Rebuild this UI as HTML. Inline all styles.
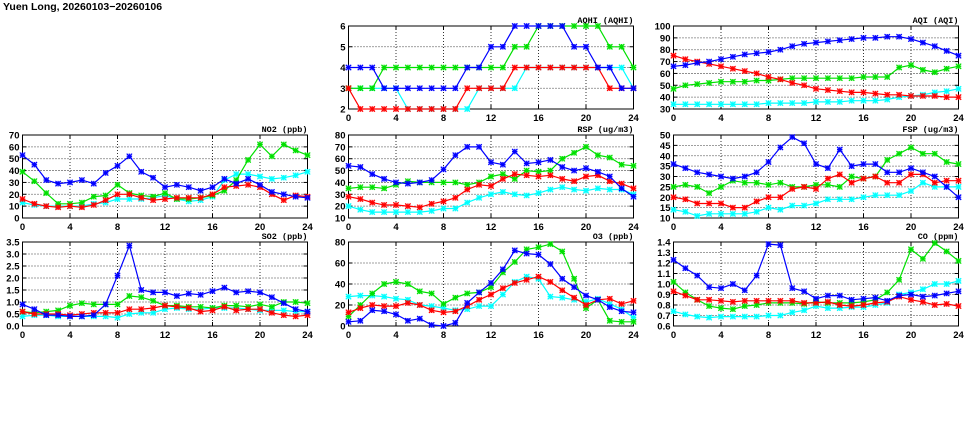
<!DOCTYPE html>
<html><head><meta charset="utf-8"><style>
html,body{margin:0;padding:0;background:#fff;width:975px;height:447px;overflow:hidden}
svg{display:block;font-family:"Liberation Sans",sans-serif}
</style></head><body>
<svg id="c" width="975" height="447" xmlns="http://www.w3.org/2000/svg">
<text x="3" y="10" font-family="Liberation Sans,sans-serif" font-weight="bold" font-size="10.5">Yuen Long, 20260103−20260106</text>
</svg>
<script>
const hours = [0,1,2,3,4,5,6,7,8,9,10,11,12,13,14,15,16,17,18,19,20,21,22,23,24];
const xTicks = [0,4,8,12,16,20,24];
const seriesColors = ['#00ffff','#00e000','#ff0000','#0000ff'];

const aqhiCyan = [3,3,3,3,3,2,2,2,2,2,2,3,3,3,3,4,4,4,4,4,4,4,4,4,3];
const aqhiGreen = [3,3,3,4,4,4,4,4,4,4,4,4,4,4,5,5,6,6,6,6,6,6,5,5,4];
const aqhiRed = [3,2,2,2,2,2,2,2,2,2,3,3,3,3,4,4,4,4,4,4,4,4,3,3,3];
const aqhiBlue = [4,4,4,3,3,3,3,3,3,3,4,4,5,5,6,6,6,6,6,5,5,4,4,3,3];
const aqhiTicks = [2,3,4,5,6];

const aqiCyan = [34,34,34,34,34,34,34,34,35,35,35,35,36,36,36,37,37,37,38,40,41,42,44,45,47];
const aqiGreen = [47,50,51,52,53,53,53,54,54,55,56,56,56,56,56,56,57,57,57,65,67,63,61,64,66];
const aqiRed = [75,72,70,68,66,64,62,60,57,55,52,50,47,46,45,44,44,43,42,42,41,41,41,40,40];
const aqiBlue = [66,67,69,70,72,74,76,77,78,80,83,85,86,87,88,89,90,90,91,91,89,86,83,79,75];
const aqiTicks = [30,40,50,60,70,80,90,100];

const no2Cyan = [13,11,10,10,10,10,12,13,16,16,16,17,19,16,14,15,18,32,37,37,35,33,34,36,39];
const no2Green = [39,31,21,12,12,13,18,19,28,21,19,18,21,16,16,17,19,23,32,49,62,52,62,57,53];
const no2Red = [16,12,10,9,10,9,11,15,20,20,17,15,16,17,17,17,20,26,27,28,26,20,15,19,18];
const no2Blue = [53,45,32,29,30,32,29,38,44,52,39,34,26,28,26,23,26,33,29,33,28,22,20,18,17];
const no2Ticks = [0,10,20,30,40,50,60,70];

const rspCyan = [20,17,15,15,15,15,15,16,18,18,23,27,30,32,30,29,31,34,36,34,33,35,34,34,30];
const rspGreen = [35,36,36,35,38,41,40,40,40,40,38,40,45,47,43,50,49,50,60,65,70,63,61,55,54];
const rspRed = [28,26,23,21,21,20,19,22,24,27,34,38,37,43,47,46,45,46,43,41,45,46,41,39,35];
const rspBlue = [54,53,47,43,40,39,40,42,51,63,70,70,57,55,66,56,57,59,53,50,52,49,45,35,28];
const rspTicks = [10,20,30,40,50,60,70,80];

const fspCyan = [14,13,11,12,12,12,12,13,15,14,16,16,17,19,19,19,20,21,21,21,23,27,25,25,25];
const fspGreen = [25,26,25,22,25,28,27,27,26,27,25,25,26,26,25,30,29,30,38,41,44,41,41,37,36];
const fspRed = [20,19,17,17,17,15,15,18,20,20,24,25,24,29,31,27,29,30,27,27,31,31,27,28,28];
const fspBlue = [36,34,32,31,30,29,30,32,37,44,49,46,36,34,43,35,36,36,32,32,34,32,30,25,20];
const fspTicks = [10,15,20,25,30,35,40,45,50];

const so2Cyan = [0.4,0.45,0.45,0.4,0.4,0.4,0.4,0.4,0.35,0.5,0.55,0.55,0.7,0.75,0.7,0.7,0.75,0.75,0.75,0.7,0.65,0.65,0.65,0.6,0.6];
const so2Green = [0.6,0.55,0.6,0.65,0.85,0.95,0.9,0.9,0.9,1.25,1.2,1.05,0.85,0.85,0.8,0.8,0.75,0.85,0.85,0.8,0.9,0.8,1.0,1.0,0.95];
const so2Red = [0.6,0.5,0.5,0.5,0.45,0.5,0.55,0.55,0.55,0.7,0.7,0.75,0.85,0.8,0.75,0.6,0.65,0.8,0.65,0.7,0.7,0.55,0.45,0.4,0.45];
const so2Blue = [0.9,0.7,0.45,0.45,0.4,0.4,0.45,0.9,2.1,3.35,1.5,1.4,1.4,1.25,1.35,1.3,1.45,1.6,1.4,1.45,1.4,1.2,0.95,0.7,0.6];
const so2Ticks = ['0.0','0.5','1.0','1.5','2.0','2.5','3.0','3.5'];

const o3Cyan = [28,29,29,28,26,25,20,19,17,15,16,19,19,30,42,47,45,28,27,25,23,26,21,16,8];
const o3Green = [9,20,31,40,42,40,33,31,21,27,31,32,37,51,61,73,75,78,71,45,17,25,5,4,4];
const o3Red = [13,17,20,19,19,22,20,15,13,14,19,25,30,36,41,44,47,42,34,27,20,25,26,21,24];
const o3Blue = [4,5,15,14,11,5,7,1,0,3,22,32,41,54,72,69,68,59,45,37,29,25,18,14,13];
const o3Ticks = [0,20,40,60,80];

const coCyan = [0.74,0.71,0.69,0.68,0.69,0.69,0.69,0.69,0.70,0.70,0.73,0.75,0.79,0.77,0.77,0.78,0.78,0.80,0.82,0.90,0.92,0.95,1.00,1.00,1.03];
const coGreen = [1.02,0.92,0.85,0.79,0.77,0.76,0.79,0.80,0.82,0.82,0.82,0.81,0.83,0.82,0.82,0.82,0.83,0.85,0.92,1.04,1.33,1.24,1.39,1.31,1.22];
const coRed = [0.93,0.89,0.85,0.85,0.84,0.83,0.84,0.84,0.84,0.84,0.84,0.82,0.82,0.83,0.80,0.79,0.80,0.82,0.83,0.88,0.85,0.83,0.80,0.81,0.79];
const coBlue = [1.23,1.15,1.08,0.97,0.96,1.00,0.94,1.08,1.38,1.37,0.96,0.93,0.86,0.89,0.89,0.85,0.86,0.87,0.84,0.89,0.90,0.88,0.89,0.91,0.93];
const coTicks = ['0.6','0.7','0.8','0.9','1.0','1.1','1.2','1.3','1.4'];

const NS='http://www.w3.org/2000/svg';
const svg=document.getElementById('c');
function mk(tag,attrs,parent){const e=document.createElementNS(NS,tag);for(const k in attrs)e.setAttribute(k,attrs[k]);(parent||svg).appendChild(e);return e;}

const COLX=[22.5,348.5,673.5], W=285;
const ROWY=[26,135,242], H=[83,83,84];

function panel(name,title,col,row,ticks,series){
  const x0=COLX[col], y0=ROWY[row], h=H[row];
  const g=mk('g',{});
  
  
  const tv=ticks.map(Number);
  const ymin=tv[0], ymax=tv[tv.length-1];
  const sx=v=>x0+v/24*W;
  const sy=v=>y0+h-(v-ymin)/(ymax-ymin)*h;
  tv.forEach((t,i)=>{
    const y=sy(t);
    if(i>0&&i<tv.length-1){const l=mk('line',{x1:x0,x2:x0+W,y1:y,y2:y,stroke:'#000','stroke-width':0.8,'stroke-dasharray':'1,2'},g);
      }
    mk('line',{x1:x0,x2:x0+4,y1:y,y2:y,stroke:'#000','stroke-width':1},g);
    mk('line',{x1:x0+W-4,x2:x0+W,y1:y,y2:y,stroke:'#000','stroke-width':1},g);
    const tx=mk('text',{x:x0-3,y:y+3.5,'text-anchor':'end','font-size':9.5,'font-weight':'bold'},g);
    tx.textContent=ticks[i];
    
    
  });
  xTicks.forEach((t,i)=>{
    const x=sx(t);
    if(i>0&&i<xTicks.length-1){const l=mk('line',{x1:x,x2:x,y1:y0,y2:y0+h,stroke:'#000','stroke-width':0.8,'stroke-dasharray':'1,2'},g);
      }
    mk('line',{x1:x,x2:x,y1:y0+h,y2:y0+h-4,stroke:'#000','stroke-width':1},g);
    mk('line',{x1:x,x2:x,y1:y0,y2:y0+4,stroke:'#000','stroke-width':1},g);
    const tx=mk('text',{x:x,y:y0+h+12,'text-anchor':'middle','font-size':9.5,'font-weight':'bold'},g);
    tx.textContent=t;
    
    
  });
  const border=mk('rect',{x:x0,y:y0,width:W,height:h,fill:'none',stroke:'#000','stroke-width':1},g);
  
  
  const tt=mk('text',{x:x0+W,y:y0-3,'text-anchor':'end','font-size':8.5,'font-weight':'bold','font-family':'Liberation Mono,monospace'},g);
  tt.textContent=title;
  
  
  series.forEach((vals,si)=>{
    const c=seriesColors[si];
    const pts=vals.map((v,i)=>sx(hours[i]).toFixed(1)+','+sy(v).toFixed(1)).join(' ');
    const pl=mk('polyline',{points:pts,fill:'none',stroke:c,'stroke-width':1.2},g);
    
    
    vals.forEach((v,i)=>{
      const cx=sx(hours[i]), cy=sy(v), r=2.7;
      const m=mk('g',{},g);
      
      
      mk('rect',{x:cx-r,y:cy-r,width:2*r,height:2*r,fill:c,'fill-opacity':0.3},m);
      mk('path',{d:`M${cx-r},${cy-r}L${cx+r},${cy+r}M${cx-r},${cy+r}L${cx+r},${cy-r}M${cx-r},${cy}L${cx+r},${cy}M${cx},${cy-r}L${cx},${cy+r}`,stroke:c,'stroke-width':1.1},m);
    });
  });
}
panel('aqhi','AQHI (AQHI)',1,0,aqhiTicks,[aqhiCyan,aqhiGreen,aqhiRed,aqhiBlue]);
panel('aqi','AQI (AQI)',2,0,aqiTicks,[aqiCyan,aqiGreen,aqiRed,aqiBlue]);
panel('no2','NO2 (ppb)',0,1,no2Ticks,[no2Cyan,no2Green,no2Red,no2Blue]);
panel('rsp','RSP (ug/m3)',1,1,rspTicks,[rspCyan,rspGreen,rspRed,rspBlue]);
panel('fsp','FSP (ug/m3)',2,1,fspTicks,[fspCyan,fspGreen,fspRed,fspBlue]);
panel('so2','SO2 (ppb)',0,2,so2Ticks,[so2Cyan,so2Green,so2Red,so2Blue]);
panel('o3','O3 (ppb)',1,2,o3Ticks,[o3Cyan,o3Green,o3Red,o3Blue]);
panel('co','CO (ppm)',2,2,coTicks,[coCyan,coGreen,coRed,coBlue]);
</script>
</body></html>
